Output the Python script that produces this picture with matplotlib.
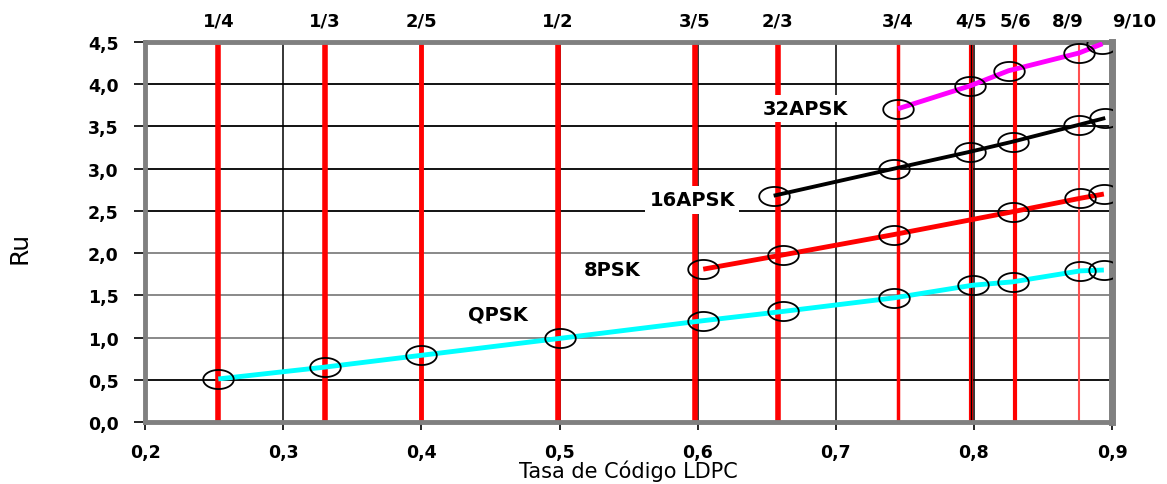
import matplotlib
matplotlib.use("Agg")
import matplotlib.pyplot as plt
import numpy as np
from matplotlib.path import Path

plt.rcParams['font.family'] = ['DejaVu Sans']

# code rates (labels and positions of the red vertical lines)
rate_labels = ["1/4", "1/3", "2/5", "1/2", "3/5", "2/3", "3/4", "4/5", "5/6", "8/9", "9/10"]
rate_pos = [0.253, 0.330, 0.400, 0.499, 0.598, 0.658, 0.745, 0.798, 0.830, 0.876, 0.900]
label_pos = [0.253, 0.330, 0.400, 0.499, 0.598, 0.658, 0.745, 0.798, 0.830, 0.868, 0.916]

# series
qpsk_x = [0.253, 0.330, 0.400, 0.500, 0.604, 0.662, 0.742, 0.799, 0.828, 0.877, 0.894]
qpsk_y = [0.51, 0.65, 0.79, 0.99, 1.20, 1.31, 1.47, 1.62, 1.66, 1.79, 1.80]
psk8_x = [0.604, 0.662, 0.742, 0.828, 0.877, 0.894]
psk8_y = [1.81, 1.98, 2.22, 2.49, 2.65, 2.70]
apsk16_x = [0.655, 0.742, 0.797, 0.828, 0.876, 0.895]
apsk16_y = [2.68, 3.00, 3.20, 3.32, 3.52, 3.60]
apsk32_x = [0.745, 0.797, 0.825, 0.876, 0.893]
apsk32_y = [3.71, 3.98, 4.16, 4.37, 4.48]

fig = plt.figure(figsize=(11.67, 4.85), dpi=100)
ax = fig.add_axes([0.1243, 0.1278, 0.953 - 0.1243, 0.9113 - 0.1278])
ax.set_xlim(0.2, 0.9)
ax.set_ylim(0.0, 4.5)

# grid
for yv in np.arange(0.5, 4.5, 0.5):
    col = '#808080' if yv in (1.0, 1.5, 2.0) else 'black'
    ax.axhline(yv, color=col, lw=1.3, zorder=1)
for xv in [0.3, 0.4, 0.5, 0.6, 0.7, 0.8]:
    ax.axvline(xv, color='black', lw=1.1, zorder=1)

# red rate lines
widths = [4, 4, 3.5, 4, 4, 4, 2.5, 3, 3, 1.5, 0]
reds = ['#ff0000'] * 9 + ['#ff5050', '#ff0000']
for xp, w, c in zip(rate_pos[:-1], widths[:-1], reds[:-1]):
    ax.axvline(xp, color=c, lw=w, zorder=2)
ax.axvline(0.798, color='black', lw=1.0, zorder=2)

for lab, xp in zip(rate_labels, label_pos):
    ax.text(xp, 4.69, lab, ha='center', va='baseline', fontsize=13, fontweight='bold',
            clip_on=False)

# ellipse marker
t = np.linspace(0, 2 * np.pi, 60)
ell = Path(np.column_stack([1.6 * np.cos(t), np.sin(t)]), closed=True)

def series(x, y, col, lw):
    ax.plot(x, y, color=col, lw=lw, zorder=4, solid_capstyle='butt')
    ax.plot(x, y, ls='none', marker=ell, ms=22, mfc='none', mec='black', mew=1.3, zorder=5)

series(qpsk_x, qpsk_y, '#00ffff', 3.5)
series(psk8_x, psk8_y, '#ff0000', 3.5)
series(apsk16_x, apsk16_y, 'black', 2.8)
series(apsk32_x, apsk32_y, '#ff00ff', 3.5)

box = dict(facecolor='white', edgecolor='none', pad=3)
ax.text(0.4555, 1.28, "QPSK", ha='center', va='center', fontsize=14, fontweight='bold', bbox=box, zorder=6)
ax.text(0.538, 1.81, "8PSK", ha='center', va='center', fontsize=14, fontweight='bold', bbox=box, zorder=6)
ax.text(0.596, 2.63, "16APSK", ha='center', va='center', fontsize=14, fontweight='bold', bbox=box, zorder=6)
ax.text(0.678, 3.71, "32APSK", ha='center', va='center', fontsize=14, fontweight='bold', bbox=box, zorder=6)

# spines
for s in ['left', 'bottom', 'top']:
    ax.spines[s].set_color('#808080')
    ax.spines[s].set_linewidth(3.5)
ax.spines['right'].set_color('#808080')
ax.spines['right'].set_linewidth(5)

ax.set_xticks(np.arange(0.2, 0.91, 0.1))
ax.set_yticks(np.arange(0.0, 4.51, 0.5))
ax.set_xticklabels([f"{v:.1f}".replace('.', ',') for v in np.arange(0.2, 0.91, 0.1)],
                   fontsize=12.5, fontweight='bold')
ax.set_yticklabels([f"{v:.1f}".replace('.', ',') for v in np.arange(0.0, 4.51, 0.5)],
                   fontsize=12.5, fontweight='bold')
ax.tick_params(axis='y', direction='out', length=8, width=1.2, color='black', pad=11)
ax.tick_params(axis='x', direction='out', length=6, width=1.2, color='black', pad=9)

ax.set_xlabel("Tasa de Código LDPC", fontsize=15)
ax.xaxis.set_label_coords(0.5, -0.098)
ax.set_ylabel("Ru", fontsize=18)
ax.yaxis.set_label_coords(-0.117, 0.46)

fig.savefig("out.png", dpi=100)
